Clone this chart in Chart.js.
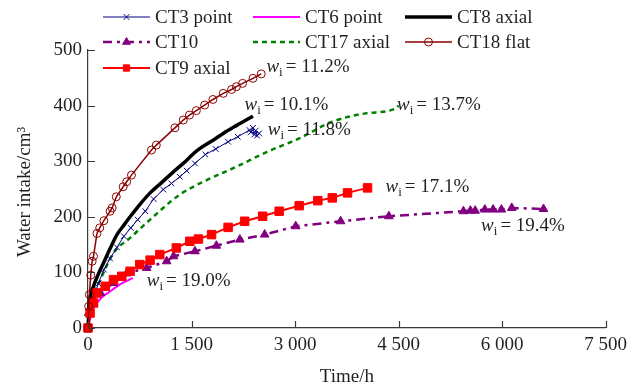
<!DOCTYPE html>
<html>
<head>
<meta charset="utf-8">
<script src="https://cdn.jsdelivr.net/npm/chart.js@4/dist/chart.umd.min.js"></script>
<style>
  body { margin: 0; background: #fff; }
  canvas { display: block; }
</style>
</head>
<body>
<canvas id="chart" width="633" height="392"></canvas>
<script>
// values (time in h, water intake in cm3)
const ct3X = [0, 30, 80, 150, 230, 320, 420, 520, 620, 720, 830, 950, 1090, 1210, 1330, 1430, 1550, 1700, 1850, 2030, 2170, 2340, 2360, 2390, 2410, 2430, 2450, 2480];
const ct3Y = [0, 30, 55, 80, 105, 125, 145, 165, 180, 195, 210, 232, 249, 260, 272, 283, 296, 312, 322, 335, 344, 356, 352, 360, 348, 355, 346, 350];

const ct6X = [0, 50, 100, 200, 300, 400, 500, 650];
const ct6Y = [0, 25, 40, 55, 64, 73, 81, 90];

const ct8X = [0, 20, 80, 150, 225, 320, 420, 520, 610, 750, 900, 1070, 1230, 1380, 1570, 1840, 1960, 2150, 2390];
const ct8Y = [0, 45, 75, 97, 117, 143, 168, 185, 200, 222, 243, 262, 280, 296, 318, 340, 350, 364, 381];

const ct10X = [0, 10, 80, 180, 370, 560, 850, 1140, 1240, 1550, 1860, 2200, 2560, 3010, 3660, 4360, 5440, 5540, 5610, 5750, 5870, 5990, 6140, 6600];
const ct10Y = [0, 27, 45, 63, 81, 98, 108, 120, 129, 138, 148, 159, 168, 183, 192, 201, 210, 211, 211, 213, 213, 213, 216, 214];

const ct17X = [0, 80, 180, 370, 610, 900, 1330, 1720, 2150, 2580, 3060, 3540, 4020, 4460, 4500];
const ct17Y = [0, 57, 87, 135, 162, 195, 240, 266, 290, 316, 341, 371, 386, 395, 400];

const ct18X = [0, 10, 20, 40, 60, 80, 130, 170, 230, 320, 350, 410, 510, 560, 630, 920, 990, 1260, 1380, 1470, 1570, 1690, 1810, 1960, 2080, 2150, 2240, 2390, 2510];
const ct18Y = [0, 39, 60, 95, 120, 129, 170, 180, 193, 210, 216, 236, 254, 263, 275, 320, 329, 360, 374, 383, 391, 401, 411, 422, 429, 434, 440, 449, 457];

const ct9X = [0, 30, 80, 130, 250, 370, 490, 610, 750, 900, 1040, 1280, 1475, 1600, 1790, 2030, 2270, 2530, 2770, 3060, 3330, 3540, 3760, 4050];
const ct9Y = [0, 27, 45, 63, 75, 87, 93, 102, 114, 122, 132, 144, 156, 160, 168, 181, 192, 201, 210, 220, 229, 234, 243, 252];

const xTicks = [0, 1500, 3000, 4500, 6000, 7500];
const yTicks = [0, 100, 200, 300, 400, 500];

// moisture labels: [value text, x (h), y (cm3)] of the label's left baseline
const notes = [
  ['11.2%', 2585, 460],
  ['10.1%', 2268, 392],
  ['11.8%', 2604, 347],
  ['13.7%', 4477, 392],
  ['17.1%', 4310, 245],
  ['19.4%', 5696, 174],
  ['19.0%', 851, 75]
];

const FONT = '"Liberation Serif", "Times New Roman", serif';
const TXT = '#231f20';

const pts = (xs, ys) => xs.map((x, i) => ({ x, y: ys[i] }));

const datasets = [
  { label: 'CT3 point', data: pts(ct3X, ct3Y), borderColor: '#000080', backgroundColor: '#000080',
    borderWidth: 1, pointStyle: 'crossRot', pointRadius: 4, pointBorderWidth: 1, order: 4 },
  { label: 'CT6 point', data: pts(ct6X, ct6Y), borderColor: '#ff00ff', backgroundColor: '#ff00ff',
    borderWidth: 2, pointRadius: 0, order: 6, cubicInterpolationMode: 'monotone' },
  { label: 'CT8 axial', data: pts(ct8X, ct8Y), borderColor: '#000000', backgroundColor: '#000000',
    borderWidth: 3.5, pointRadius: 0, order: 3, cubicInterpolationMode: 'monotone' },
  { label: 'CT10', data: pts(ct10X, ct10Y), borderColor: '#800080', backgroundColor: '#800080',
    borderWidth: 2.5, borderDash: [9, 5, 3, 5], pointStyle: 'triangle', pointRadius: 5, pointBorderWidth: 1, order: 5 },
  { label: 'CT17 axial', data: pts(ct17X, ct17Y), borderColor: '#008000', backgroundColor: '#008000',
    borderWidth: 2.5, borderDash: [5, 4], pointRadius: 0, order: 7, cubicInterpolationMode: 'monotone' },
  { label: 'CT18 flat', data: pts(ct18X, ct18Y), borderColor: '#8b0000', backgroundColor: 'rgba(0,0,0,0)',
    borderWidth: 1.5, pointStyle: 'circle', pointRadius: 4, pointBorderWidth: 1, order: 1 },
  { label: 'CT9 axial', data: pts(ct9X, ct9Y), borderColor: '#ff0000', backgroundColor: '#ff0000',
    borderWidth: 2, pointStyle: 'rect', pointRadius: 6, pointBorderWidth: 1, order: 2 }
];
datasets.forEach(d => { d.showLine = true; d.clip = false; d.pointHoverRadius = d.pointRadius; });

const legendCols = [103, 253, 405];
const legendRows = [17, 42, 68];

function drawSample(ctx, ds, x0, y) {
  ctx.save();
  ctx.strokeStyle = ds.borderColor;
  ctx.lineWidth = ds.borderWidth;
  ctx.setLineDash(ds.borderDash || []);
  ctx.beginPath();
  ctx.moveTo(x0, y);
  ctx.lineTo(x0 + 47, y);
  ctx.stroke();
  ctx.setLineDash([]);
  if (ds.pointRadius > 0) {
    ctx.fillStyle = ds.backgroundColor;
    ctx.strokeStyle = ds.borderColor;
    ctx.lineWidth = ds.pointBorderWidth;
    Chart.helpers.drawPoint(ctx, { pointStyle: ds.pointStyle, radius: Math.min(ds.pointRadius, 4.5), borderWidth: ds.pointBorderWidth, rotation: 0 }, x0 + 23.5, y);
  }
  ctx.fillStyle = TXT;
  ctx.font = '19px ' + FONT;
  ctx.textBaseline = 'middle';
  ctx.textAlign = 'left';
  ctx.fillText(ds.label, x0 + 52, y + 1);
  ctx.restore();
}

function drawNote(ctx, text, x, y) {
  ctx.save();
  ctx.fillStyle = TXT;
  ctx.textBaseline = 'alphabetic';
  ctx.textAlign = 'left';
  ctx.font = 'italic 19px ' + FONT;
  ctx.fillText('w', x, y);
  x += ctx.measureText('w').width;
  ctx.font = '13px ' + FONT;
  ctx.fillText('i', x, y + 4);
  x += ctx.measureText('i').width + 3;
  ctx.font = '19px ' + FONT;
  ctx.fillText('= ' + text, x, y);
  ctx.restore();
}

const decor = {
  id: 'decor',
  afterDraw(chart) {
    const ctx = chart.ctx;
    const xs = chart.scales.x, ys = chart.scales.y;
    const a = chart.chartArea;
    ctx.save();
    ctx.strokeStyle = '#3a3a3a';
    ctx.lineWidth = 1.2;
    ctx.beginPath();
    xTicks.forEach(v => {
      const px = Math.round(xs.getPixelForValue(v)) + 0.5;
      ctx.moveTo(px, a.bottom); ctx.lineTo(px, a.bottom - 7);
    });
    yTicks.forEach(v => {
      const py = Math.round(ys.getPixelForValue(v)) + 0.5;
      ctx.moveTo(a.left, py); ctx.lineTo(a.left + 7, py);
    });
    ctx.stroke();

    // axis titles
    ctx.fillStyle = TXT;
    ctx.font = '19px ' + FONT;
    ctx.textAlign = 'center';
    ctx.textBaseline = 'middle';
    ctx.fillText('Time/h', (a.left + a.right) / 2, 377);
    ctx.translate(25, 192);
    ctx.rotate(-Math.PI / 2);
    ctx.fillText('Water intake/cm\u00b3', 0, 0);
    ctx.restore();

    notes.forEach(n => drawNote(ctx, n[0], xs.getPixelForValue(n[1]), ys.getPixelForValue(n[2])));

    chart.data.datasets.forEach((ds, i) => {
      drawSample(ctx, ds, legendCols[i % 3], legendRows[Math.floor(i / 3)]);
    });
  }
};

new Chart(document.getElementById('chart'), {
  type: 'scatter',
  data: { datasets },
  plugins: [decor],
  options: {
    responsive: false,
    animation: false,
    events: [],
    layout: { padding: { left: 0, top: 50, right: 25, bottom: 0 } },
    plugins: { legend: { display: false }, tooltip: { enabled: false } },
    scales: {
      x: {
        type: 'linear', min: 0, max: 7500,
        afterBuildTicks: s => { s.ticks = xTicks.map(v => ({ value: v })); },
        afterFit: s => { s.height = 64; },
        grid: { display: true, drawOnChartArea: false, drawTicks: false },
        border: { display: true, color: '#3a3a3a', width: 1.2 },
        ticks: {
          padding: 6, color: TXT, font: { family: FONT, size: 19 },
          maxRotation: 0,
          callback: v => v >= 1000 ? Math.floor(v / 1000) + ' ' + String(v % 1000).padStart(3, '0') : String(v)
        }
      },
      y: {
        type: 'linear', min: 0, max: 500,
        afterBuildTicks: s => { s.ticks = yTicks.map(v => ({ value: v })); },
        afterFit: s => { s.width = 88; },
        grid: { display: true, drawOnChartArea: false, drawTicks: false },
        border: { display: true, color: '#3a3a3a', width: 1.2 },
        ticks: { padding: 6, color: TXT, font: { family: FONT, size: 19 } }
      }
    }
  }
});
</script>
</body>
</html>
